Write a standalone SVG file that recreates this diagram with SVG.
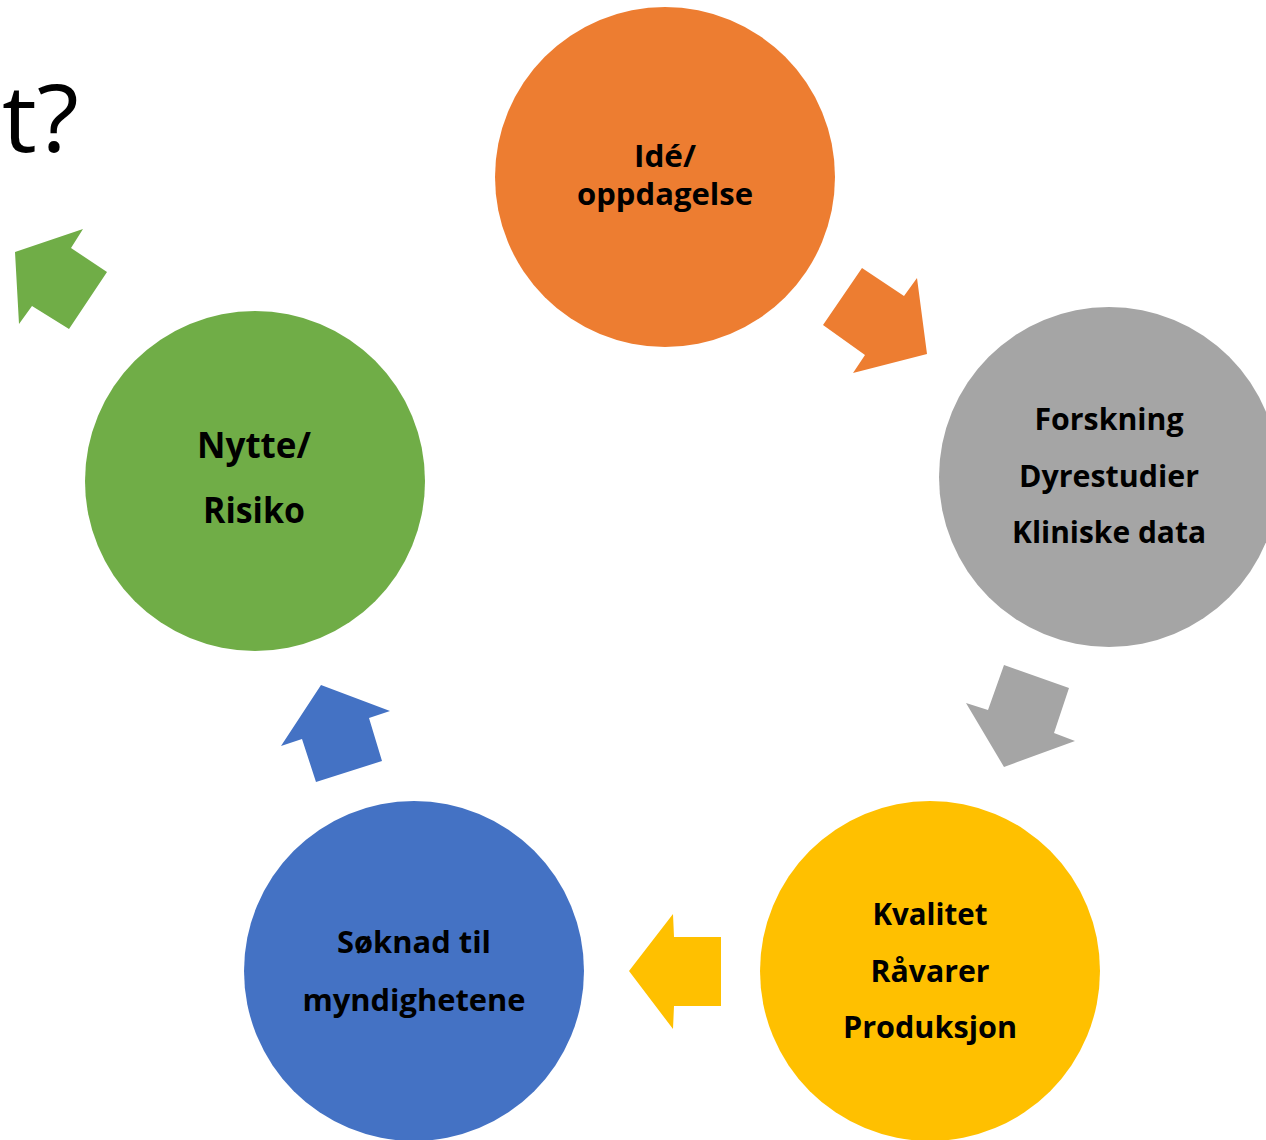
<svg xmlns="http://www.w3.org/2000/svg" width="1266" height="1140" viewBox="0 0 1266 1140">
<style>
.lbl{font-family:"Open Sans","Noto Sans","Liberation Sans",sans-serif;font-weight:700;font-size:31px;fill:#000;text-anchor:middle}
.big{font-size:35px}
.title{font-family:"Open Sans","Noto Sans","Liberation Sans",sans-serif;font-weight:400;font-size:94px;fill:#000}
</style>
<rect width="1266" height="1140" fill="#fff"/>
<text class="title" x="2" y="152" textLength="77" lengthAdjust="spacingAndGlyphs">t?</text>
<g id="connectors">
<polygon fill="#ED7D31" points="862,268 904,296 917,278 927,354 853,373 865,355 823,325"/>
<polygon fill="#A5A5A5" points="1004,665 1069,688 1054,733 1075,741 1004,767 966,703 988,710"/>
<polygon fill="#FFC000" points="629,971 673,914 674,937 721,937 721,1006 674,1006 673,1029"/>
<polygon fill="#4472C4" points="321,685 390,711 369,718 382,761 316,782 302,739 281,746"/>
<polygon fill="#70AD47" points="15,252 83,229 71,248 107,272 69,329 32,306 19,324"/>
</g>
<g id="node-ide">
<circle cx="665" cy="177" r="170" fill="#ED7D31"/>
<text class="lbl" x="665" y="167" textLength="62" lengthAdjust="spacingAndGlyphs">Idé/</text>
<text class="lbl" x="665" y="205" textLength="176" lengthAdjust="spacingAndGlyphs">oppdagelse</text>
</g>
<g id="node-forskning">
<circle cx="1109" cy="477" r="170" fill="#A5A5A5"/>
<text class="lbl" x="1109" y="430" textLength="149" lengthAdjust="spacingAndGlyphs">Forskning</text>
<text class="lbl" x="1109" y="487" textLength="180" lengthAdjust="spacingAndGlyphs">Dyrestudier</text>
<text class="lbl" x="1109" y="543" textLength="194" lengthAdjust="spacingAndGlyphs">Kliniske data</text>
</g>
<g id="node-kvalitet">
<circle cx="930" cy="971" r="170" fill="#FFC000"/>
<text class="lbl" x="930" y="925" textLength="115" lengthAdjust="spacingAndGlyphs">Kvalitet</text>
<text class="lbl" x="930" y="982" textLength="119" lengthAdjust="spacingAndGlyphs">Råvarer</text>
<text class="lbl" x="930" y="1038" textLength="174" lengthAdjust="spacingAndGlyphs">Produksjon</text>
</g>
<g id="node-soknad">
<circle cx="414" cy="971" r="170" fill="#4472C4"/>
<text class="lbl" x="414" y="953" textLength="154" lengthAdjust="spacingAndGlyphs">Søknad til</text>
<text class="lbl" x="414" y="1011" textLength="223" lengthAdjust="spacingAndGlyphs">myndighetene</text>
</g>
<g id="node-nytte">
<circle cx="255" cy="481" r="170" fill="#70AD47"/>
<text class="lbl big" x="254" y="458" textLength="114" lengthAdjust="spacingAndGlyphs">Nytte/</text>
<text class="lbl big" x="254" y="523" textLength="102" lengthAdjust="spacingAndGlyphs">Risiko</text>
</g>
</svg>
